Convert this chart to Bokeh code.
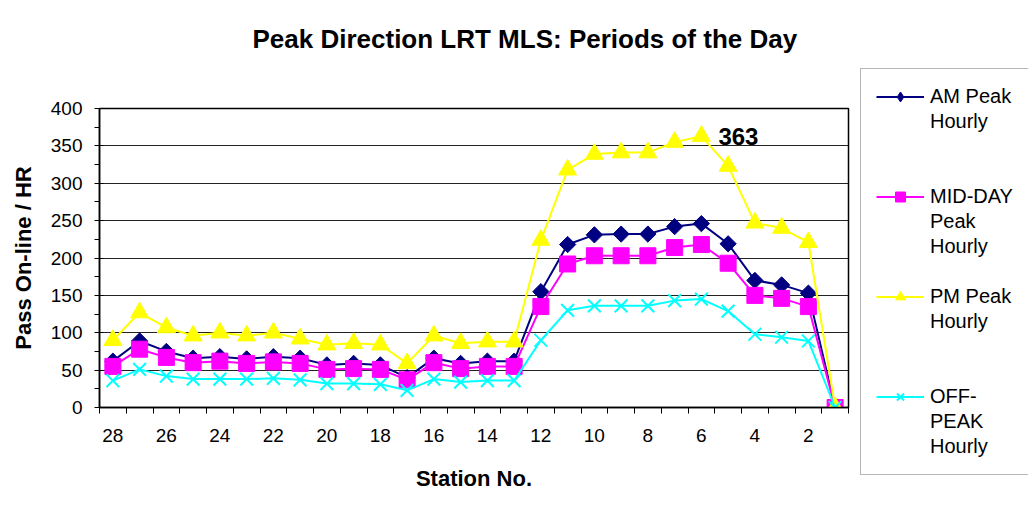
import math
from bokeh.plotting import figure
from bokeh.models import Range1d, FixedTicker, Title, Legend, LegendItem
from bokeh.embed import file_html
from bokeh.resources import INLINE
from bokeh.core.properties import value

# ---------------- data ----------------
stations = list(range(28, 0, -1))
am_peak = [62, 89, 75, 66, 68, 65, 68, 66, 57, 59, 57, 40, 66, 59, 62, 62,
           155, 218, 231, 232, 232, 242, 246, 219, 170, 164, 153, 0]
mid_day = [55, 78, 67, 60, 62, 59, 61, 59, 51, 52, 51, 37, 60, 52, 55, 55,
           135, 192, 203, 203, 203, 214, 218, 193, 150, 146, 135, 0]
pm_peak = [90, 127, 107, 96, 100, 96, 100, 92, 84, 86, 84, 59, 96, 86, 88, 88,
           224, 318, 339, 341, 341, 355, 363, 323, 247, 240, 221, 0]
off_peak = [36, 51, 42, 38, 38, 38, 39, 37, 32, 32, 31, 23, 38, 34, 36, 36,
            90, 130, 136, 136, 136, 143, 145, 129, 98, 94, 89, 0]
x_tick_labels = list(range(28, 0, -2))
y_ticks = list(range(0, 401, 50))
legend_labels = [["AM Peak", "Hourly"], ["MID-DAY", "Peak", "Hourly"],
                 ["PM Peak", "Hourly"], ["OFF-", "PEAK", "Hourly"]]
legend_gaps = [2, 1, 2, 0]   # blank rows after each entry

FONT = "Liberation Sans"
NAVY, MAG, YEL, CYAN = "#000080", "#FF00FF", "#FFFF00", "#00FFFF"

# ---------------- main chart ----------------
p = figure(frame_width=749, frame_height=299,
           min_border_left=99, min_border_right=178,
           min_border_top=108, min_border_bottom=107,
           x_range=Range1d(28.5, 0.5), y_range=Range1d(0, 400),
           toolbar_location=None, output_backend="svg")
p.title = Title(text="Peak Direction LRT MLS: Periods of the Day",
                align="left", offset=153, standoff=0,
                text_font=FONT, text_font_size="26px", text_font_style="bold",
                text_color="black")
# invisible spacer between the title and the plot area
p.add_layout(Title(text=" ", text_font_size="10px", standoff=42), "above")
p.outline_line_color = "black"
p.outline_line_width = 1.5
p.background_fill_color = "white"
p.border_fill_color = "white"

p.xgrid.visible = False
p.ygrid.ticker = FixedTicker(ticks=y_ticks)
p.ygrid.grid_line_color = "#222222"
p.ygrid.grid_line_width = 1

xa = p.xaxis[0]
xa.ticker = FixedTicker(ticks=x_tick_labels,
                        minor_ticks=[s + 0.5 for s in stations] + [0.5])
xa.major_tick_out = 0
xa.major_tick_in = 0
xa.minor_tick_out = 6
xa.minor_tick_in = 0
xa.minor_tick_line_color = "black"
xa.axis_line_color = "black"
xa.axis_line_width = 1.5
xa.major_label_standoff = 15
xa.major_label_text_font = FONT
xa.major_label_text_font_size = "19px"
xa.major_label_text_color = "black"
xa.axis_label = "Station No."
xa.axis_label_text_font = FONT
xa.axis_label_text_font_size = "22px"
xa.axis_label_text_font_style = "bold"
xa.axis_label_text_color = "black"
xa.axis_label_standoff = 21

ya = p.yaxis[0]
ya.ticker = FixedTicker(ticks=y_ticks, minor_ticks=[t + 25 for t in y_ticks[:-1]])
ya.major_tick_out = 5
ya.major_tick_in = 4
ya.minor_tick_out = 5
ya.minor_tick_in = 0
ya.major_tick_line_color = "black"
ya.minor_tick_line_color = "black"
ya.axis_line_color = "black"
ya.axis_line_width = 1.5
ya.major_label_standoff = 12
ya.major_label_text_font = FONT
ya.major_label_text_font_size = "19px"
ya.major_label_text_color = "black"
ya.axis_label = "Pass On-line / HR"
ya.axis_label_text_font = FONT
ya.axis_label_text_font_size = "22px"
ya.axis_label_text_font_style = "bold"
ya.axis_label_text_color = "black"
ya.axis_label_standoff = 12

series = [
    (am_peak, NAVY, dict(marker="square", angle=math.pi / 4, size=11.5)),
    (mid_day, MAG, dict(marker="square", size=16)),
    (pm_peak, YEL, dict(marker="triangle", size=18)),
    (off_peak, CYAN, dict(marker="x", size=18)),
]
renderer_pairs = []
for vals, col, mk in series:
    lr = p.line(stations, vals, line_color=col, line_width=2)
    key = None
    if mk.get("angle"):
        # small diamond hidden under the rotated square: gives the legend a diamond
        key = p.scatter(stations, vals, marker="diamond", size=9,
                        fill_color=col, line_color=col)
    sr = p.scatter(stations, vals, fill_color=col, line_color=col,
                   line_width=2 if mk["marker"] == "x" else 1, **mk)
    renderer_pairs.append([lr, key if key is not None else sr])

imax = pm_peak.index(max(pm_peak))
p.text(x=[stations[imax]], y=[pm_peak[imax]], text=[str(pm_peak[imax])],
       x_offset=17, text_align="left", text_baseline="middle",
       text_font=value(FONT), text_font_size="24px", text_font_style="bold",
       text_color="black")

# ---------------- legend (one row per text line) ----------------
blank = p.line(x=[], y=[], line_alpha=0)
items = []
for rs, lines, gap in zip(renderer_pairs, legend_labels, legend_gaps):
    items.append(LegendItem(label=lines[0], renderers=rs))
    for extra in lines[1:]:
        items.append(LegendItem(label=extra, renderers=[blank]))
    for _ in range(gap):
        items.append(LegendItem(label=" ", renderers=[blank]))

legend = Legend(items=items, location=(12, -68), margin=0,
                glyph_width=48, glyph_height=25, label_height=25,
                spacing=0, padding=15, label_standoff=6,
                label_text_font=FONT, label_text_font_size="20px",
                label_text_color="black", label_text_baseline="middle",
                border_line_color="#707070", border_line_width=1,
                background_fill_color="white", background_fill_alpha=1.0)
p.add_layout(legend, "right")

open("out.html", "w").write(file_html(p, INLINE))
